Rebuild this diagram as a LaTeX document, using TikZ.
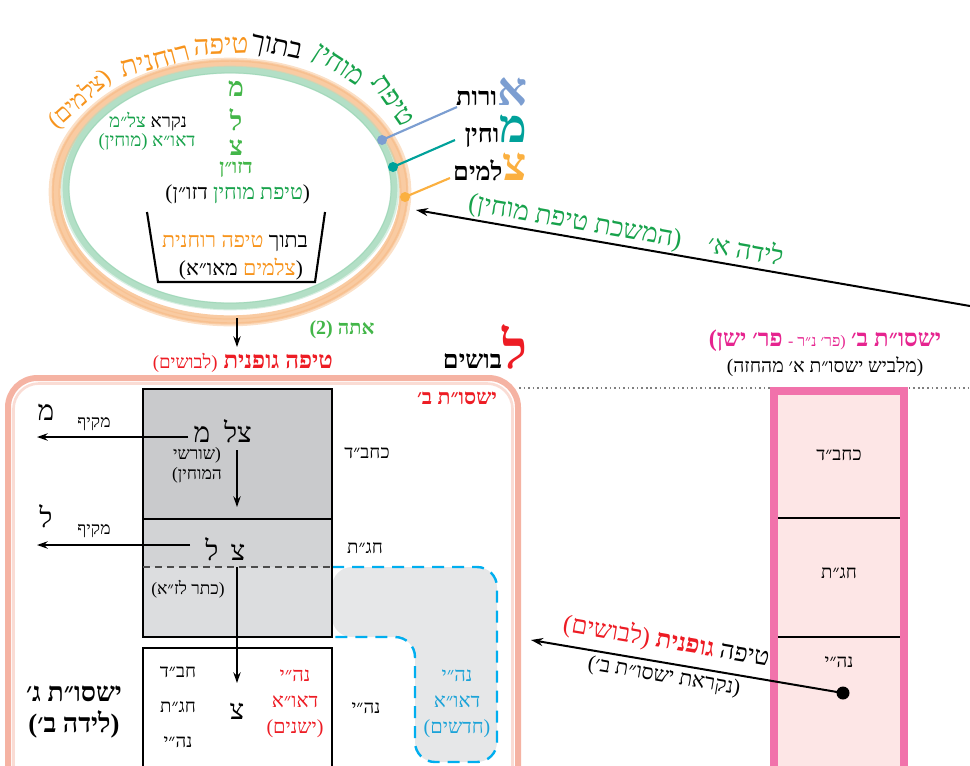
\documentclass[tikz,border=0pt]{standalone}
\usepackage{fontspec}
\usetikzlibrary{arrows.meta}
\TeXXeTstate=1
\newfontfamily\hebfont[Script=Hebrew]{Liberation Serif}
\newfontfamily\latfont{Liberation Serif}
\newcommand{\heb}[1]{\beginR #1\endR}
\newcommand{\fsz}[2]{\fontsize{#1}{#2}\selectfont}
\definecolor{hgreen}{HTML}{17A24B}
\definecolor{lgreen}{HTML}{43B649}
\definecolor{horange}{HTML}{F7941D}
\definecolor{ringor}{HTML}{F9CBA2}
\definecolor{ringor2}{HTML}{F5A868}
\definecolor{ringgr}{HTML}{B3DFC6}
\definecolor{ringgr2}{HTML}{7CC9A0}
\definecolor{hblue}{HTML}{7C9ED1}
\definecolor{hteal}{HTML}{00A19A}
\definecolor{hyellow}{HTML}{FBB040}
\definecolor{hred}{HTML}{ED1C24}
\definecolor{hmag}{HTML}{E6248F}
\definecolor{pinkb}{HTML}{F172AB}
\definecolor{pinkf}{HTML}{FDE6E6}
\definecolor{hcyan}{HTML}{00AEEF}
\definecolor{hcyant}{HTML}{1BA3D8}
\definecolor{salmon}{HTML}{F29A85}
\definecolor{gA}{HTML}{C9CACC}
\definecolor{gB}{HTML}{D2D3D5}
\definecolor{gC}{HTML}{DCDDDF}
\definecolor{gD}{HTML}{E6E7E8}
\begin{document}
\begin{tikzpicture}[x=0.75pt,y=-0.75pt,
  every node/.style={inner sep=0pt,outer sep=0pt},
  t14/.style={font=\hebfont\fsz{14}{19},align=center},
  t13/.style={font=\hebfont\fsz{13}{15},align=center},
  t12/.style={font=\hebfont\fsz{13}{14}},
  t15/.style={font=\hebfont\fsz{15}{19.5},align=center},
  t16/.style={font=\hebfont\fsz{16}{18}},
  p16/.style={font=\latfont\fsz{16}{18}},
  t19/.style={font=\hebfont\fsz{19}{21}},
  arcw/.style={font=\hebfont\fsz{21}{22}},
  bigl/.style={font=\hebfont\bfseries\fsz{20}{22}},
  rb/.style={anchor=base east},
  arr/.style={line width=1.5pt,-{Stealth[length=9pt,width=6pt]}},
  arrs/.style={line width=1.3pt,-{Stealth[length=8pt,width=5.5pt]}},
]
\useasboundingbox (0,0) rectangle (970,765);

% ---------- ellipse rings
\draw[ringor, line width=7pt] (230,192) ellipse [x radius=174, y radius=128];
\draw[ringor2, opacity=0.3, line width=1.1pt] (230,192) ellipse [x radius=177, y radius=131];
\draw[ringor2, opacity=0.25, line width=0.9pt] (230,193) ellipse [x radius=171, y radius=126];
\draw[ringor, opacity=0.6, line width=2pt] (230,192) ellipse [x radius=180, y radius=133];
\draw[ringgr, line width=5pt] (230,188) ellipse [x radius=164, y radius=118];
\draw[ringgr2, opacity=0.3, line width=1pt] (230,188) ellipse [x radius=161, y radius=115];
\draw[ringgr, opacity=0.5, line width=2pt] (230,188) ellipse [x radius=168, y radius=121];

% ---------- arc text
\node[arcw,text=hgreen,rotate=-55] (w1) at (393,101) {\heb{טיפת}};
\node[arcw,text=hgreen,rotate=-33] (w2) at (337,67) {\heb{מוחין}};
\node[arcw,rotate=-12] (w3) at (276,49) {\heb{בתוך}};
\node[arcw,text=horange,rotate=2] (w4) at (221,46) {\heb{טיפה}};
\node[arcw,text=horange,rotate=15] (w5) at (155,61) {\heb{רוחנית}};
\node[arcw,text=horange,rotate=42,font=\hebfont\fsz{18}{20}] (w6) at (80,99) {\heb{(צלמים)}};

% ---------- inside ellipse
\node[t14,rb] (nk1) at (187,127) {\heb{נקרא}};
\node[t14,rb,text=hgreen] (nk2) at ([xshift=-3.5pt]nk1.base west) {\heb{צל״מ}};
\node[t14,anchor=base,text=hgreen] (nk3) at (147,146) {\heb{דאו״א (מוחין)}};
\node[bigl,text=lgreen] (lm) at (236,89) {\heb{מ}};
\node[bigl,text=lgreen] (ll) at (236,120) {\heb{ל}};
\node[bigl,text=lgreen] (lz) at (236,148) {\heb{צ}};
\node[font=\hebfont\bfseries\fsz{15}{17},text=lgreen] (dz) at (236,170) {\heb{דזו״ן}};
\node[p16,rb] (tm1) at (310,199) {)};
\node[t16,rb,text=hgreen] (tm2) at (tm1.base west) {\heb{טיפת מוחין}};
\node[t16,rb] (tm3) at ([xshift=-4pt]tm2.base west) {\heb{דזו״ן}};
\node[p16,rb] (tm4) at (tm3.base west) {(};
\draw[line width=1.6pt] (147,212) -- (158,282) -- (315,282) -- (325,212);
\node[t16,rb] (bt1) at (308,247) {\heb{בתוך}};
\node[t16,rb,text=horange] (bt2) at ([xshift=-4pt]bt1.base west) {\heb{טיפה רוחנית}};
\node[p16,rb] (bu1) at (303,275) {)};
\node[t16,rb,text=horange] (bu2) at (bu1.base west) {\heb{צלמים}};
\node[t16,rb] (bu3) at ([xshift=-4pt]bu2.base west) {\heb{מאו״א}};
\node[p16,rb] (bu4) at (bu3.base west) {(};

% ---------- legend
\coordinate (dA) at (382,140); \coordinate (eA) at (457,107);
\coordinate (dM) at (393,167); \coordinate (eM) at (455,140);
\coordinate (dT) at (405,197); \coordinate (eT) at (450,178);
\draw[hblue,line width=1.6pt] (dA) -- (eA); \fill[hblue] (dA) circle (5);
\draw[hteal,line width=1.6pt] (dM) -- (eM); \fill[hteal] (dM) circle (5);
\draw[hyellow,line width=1.6pt] (dT) -- (eT); \fill[hyellow] (dT) circle (5);
\node[font=\hebfont\bfseries\fsz{35}{36},rb,text=hblue] (lgA1) at (527,105) {\heb{א}};
\node[font=\hebfont\bfseries\fsz{19}{20},rb] (lgA2) at (lgA1.base west) {\heb{ורות}};
\node[font=\hebfont\bfseries\fsz{35}{36},rb,text=hteal] (lgM1) at (527,142) {\heb{מ}};
\node[font=\hebfont\bfseries\fsz{19}{20},rb] (lgM2) at (lgM1.base west) {\heb{וחין}};
\node[font=\hebfont\bfseries\fsz{35}{36},rb,text=hyellow] (lgZ1) at (527,180) {\heb{צ}};
\node[font=\hebfont\bfseries\fsz{19}{20},rb] (lgZ2) at (lgZ1.base west) {\heb{למים}};

% ---------- birth A arrow
\coordinate (bS) at (970,306); \coordinate (bT) at (416,210);
\draw[arr] (bS) -- (bT);
\node[font=\hebfont\fsz{20}{22},text=hgreen,rotate=-10] (lda) at (626,230) {\heb{לידה א׳\quad (המשכת טיפת מוחין)}};

% ---------- middle headings
\coordinate (eB) at (237,318); \coordinate (eB2) at (237,347);
\draw[arrs] (eB) -- (eB2);
\node[font=\hebfont\bfseries\fsz{15}{17},text=lgreen] (ata) at (342,330) {\heb{אתה (2)}};
\node[font=\hebfont\bfseries\fsz{18}{20},text=hred,rb] (tg) at (333,368) {\heb{טיפה גופנית {\mdseries\fsz{14}{16}(לבושים)}}};
\node[font=\hebfont\bfseries\fsz{40}{40},rb,text=hred] (lv1) at (527,368) {\heb{ל}};
\node[font=\hebfont\bfseries\fsz{19}{20},rb] (lv2) at (lv1.base west) {\heb{בושים}};

% ---------- frame
\draw[gray,line width=1.2pt,dash pattern=on 1.2pt off 2.2pt] (519,388) -- (970,388);
\draw[salmon!75,line width=4.5pt,rounded corners=22pt] (8,800) -- (8,378) -- (518,378) -- (518,800);
\draw[salmon!35,line width=2pt,rounded corners=19pt] (13.5,800) -- (13.5,383.5) -- (512.5,383.5) -- (512.5,800);
\node[font=\hebfont\bfseries\fsz{16}{18},text=hred,rb] (ysb) at (497,404) {\heb{ישסו״ת ב׳}};

% ---------- blue dashed region
\fill[gD,rounded corners=15pt] (332,567) -- (497,567) -- (497,762) -- (415,762) -- (415,637) -- (332,637) -- cycle;
\draw[hcyan,line width=1.8pt,dash pattern=on 9pt off 6pt,rounded corners=15pt] (332,567) -- (497,567) -- (497,762) -- (415,762) -- (415,637) -- (332,637);

% ---------- gray box
\fill[gA] (143,389) rectangle (332,519);
\fill[gB] (143,519) rectangle (332,567);
\fill[gC] (143,567) rectangle (332,637);
\draw[line width=1.1pt] (143,389) rectangle (332,637);
\draw[line width=1.1pt] (143,519) -- (332,519);
\draw[black!70,line width=1.1pt,dash pattern=on 5pt off 4pt] (143,567) -- (332,567);
\draw[line width=1.1pt] (143,800) -- (143,648) -- (332,648) -- (332,800);

\node[font=\hebfont\fsz{21}{22},anchor=base] (gm) at (202,442) {\heb{מ}};
\node[font=\hebfont\fsz{21}{22},anchor=base] (gzl) at (238,442) {\heb{צל}};
\node[t13] (gsh) at (197,465) {\heb{(שורשי}\\\heb{המוחין)}};
\node[font=\hebfont\fsz{21}{22},anchor=base] (gl) at (212,560) {\heb{ל}};
\node[font=\hebfont\fsz{21}{22},anchor=base] (gz) at (238,560) {\heb{צ}};
\node[t13] (gkt) at (188,589) {\heb{(כתר לז״א)}};

\coordinate (a1s) at (237,450); \coordinate (a1e) at (237,507);
\draw[arrs] (a1s) -- (a1e);
\coordinate (a2s) at (237,567); \coordinate (a2e) at (237,683);
\draw[arrs] (a2s) -- (a2e);
\coordinate (m1s) at (188,437); \coordinate (m1e) at (37,437);
\draw[arrs] (m1s) -- (m1e);
\coordinate (m2s) at (190,545); \coordinate (m2e) at (37,545);
\draw[arrs] (m2s) -- (m2e);
\node[t12] (mk1) at (94,424) {\heb{מקיף}};
\node[t12] (mk2) at (94,531) {\heb{מקיף}};
\node[font=\hebfont\fsz{21}{22}] (bm) at (46,412) {\heb{מ}};
\node[font=\hebfont\fsz{21}{22}] (bl) at (46,516) {\heb{ל}};

\node[t14] (rk) at (367,453) {\heb{כחב״ד}};
\node[t14] (rh) at (365,548) {\heb{חג״ת}};

% bottom box
\node[t14,font=\hebfont\fsz{14}{26}] (bb) at (178,707) {\heb{חב״ד}\\\heb{חג״ת}\\\heb{נה״י}};
\node[font=\hebfont\fsz{21}{22}] (bz) at (237,711) {\heb{צ}};
\node[t15,text=hred] (bred) at (295,704) {\heb{נה״י}\\\heb{דאו״א}\\\heb{(ישנים)}};
\node[t14] (bn) at (366,708) {\heb{נה״י}};
\node[t15,text=hcyant] (bcy) at (457,704) {\heb{נה״י}\\\heb{דאו״א}\\\heb{(חדשים)}};
\node[font=\hebfont\bfseries\fsz{20}{23},align=center] (y3) at (74,712) {\heb{ישסו״ת ג׳}\\\heb{(לידה ב׳)}};

% ---------- pink column
\draw[pinkb,line width=6pt,fill=pinkf] (774,391) rectangle (904,800);
\draw[line width=1.2pt] (778,518) -- (900,518);
\draw[line width=1.2pt] (778,637) -- (900,637);
\node[t14] (pk) at (839,455) {\heb{כחב״ד}};
\node[t14] (ph) at (839,573) {\heb{חג״ת}};
\node[t14] (pn) at (839,662) {\heb{נה״י}};
\node[font=\hebfont\fsz{16}{20},text=hmag] (pt1) at (825,341) {\heb{\textbf{\fsz{18}{20}ישסו״ת ב׳} {\fsz{12}{14}(פר׳ נ״ר -} \textbf{\fsz{18}{20}פר׳ ישן)}}};
\node[font=\hebfont\fsz{14.5}{17}] (pt2) at (825,367) {\heb{(מלביש ישסו״ת א׳ מהחזה)}};

\coordinate (pd) at (843,693); \coordinate (pe) at (531,640);
\fill (pd) circle (6.5);
\draw[arr] (pd) -- (pe);
\node[t19,rb,rotate=-9.6] (g1) at (768,666) {\heb{טיפה}};
\node[t19,rb,rotate=-9.6,text=hred,font=\hebfont\bfseries\fsz{19}{21}] (g2) at ([shift={(-6,-1)}]g1.base west) {\heb{גופנית}};
\node[t19,rb,rotate=-9.6,text=hred] (g3) at ([shift={(-6,-1)}]g2.base west) {\heb{(לבושים)}};
\node[font=\hebfont\fsz{16}{18},rotate=-9.6] (gl2) at (664,677) {\heb{(נקראת ישסו״ת ב׳)}};
\end{tikzpicture}
\end{document}
